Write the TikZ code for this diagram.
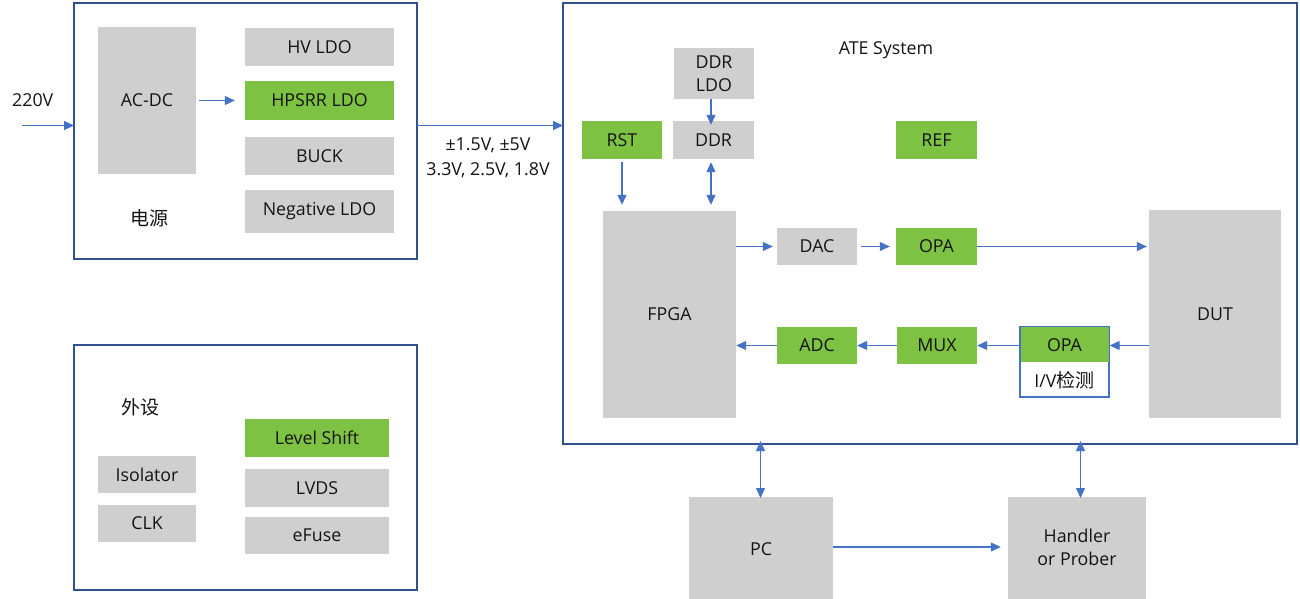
\documentclass[tikz,border=0pt]{standalone}
\usepackage{fontspec}
\setmainfont{Open Sans}
\newfontfamily\cjk{Noto Sans CJK SC}
\usetikzlibrary{arrows.meta,positioning}
\definecolor{boxgray}{RGB}{207,207,207}
\definecolor{boxgreen}{RGB}{125,194,66}
\definecolor{frameblue}{RGB}{47,82,143}
\definecolor{arrowblue}{RGB}{68,114,196}
\definecolor{txt}{RGB}{20,20,20}
\newcommand{\fs}{\fontsize{17.8}{23}\selectfont}
\newcommand{\cfs}{\cjk\fontsize{19}{23}\selectfont}
\tikzset{
  blk/.style={fill=boxgray, draw=none, inner sep=0pt, font=\fs, text=txt, align=center},
  gblk/.style={fill=boxgreen, draw=none, inner sep=0pt, font=\fs, text=txt, align=center},
  frame/.style={draw=frameblue, line width=1.6pt, fill=none},
  arr/.style={draw=arrowblue, line width=1.1pt, -{Triangle[length=10pt,width=9pt]}},
  darr/.style={draw=arrowblue, line width=1.1pt, {Triangle[length=10pt,width=9pt]}-{Triangle[length=10pt,width=9pt]}},
  lbl/.style={inner sep=0pt, font=\fs, text=txt, align=center},
}
\begin{document}
\begin{tikzpicture}[x=1pt,y=-1pt]
\useasboundingbox (0,0) rectangle (1300,598);
\fill[white] (0,0) rectangle (1300,598);

% ---------- Power box ----------
\draw[frame] (74,3) rectangle (417,259);
\node[blk, minimum width=98pt, minimum height=147pt] (acdc) at (147,100.5) {AC-DC};
\node[blk, minimum width=149pt, minimum height=38pt] (hvldo) at (319.5,47) {HV LDO};
\node[gblk, minimum width=149pt, minimum height=39pt] (hpsrr) at (319.5,100.5) {HPSRR LDO};
\node[blk, minimum width=149pt, minimum height=38pt] (buck) at (319.5,156) {BUCK};
\node[blk, minimum width=149pt, minimum height=43pt] (negldo) at (319.5,211.5) {Negative LDO};
\node[lbl, font=\cfs] (psu) at (149,218) {电源};
\coordinate (pwrL) at (74,125.5);
\coordinate (pwrR) at (417,125.5);
\coordinate (in220) at (22,125.5);
\node[lbl, anchor=west] (v220) at (12,100) {220V};
\draw[arr] (in220) -- (pwrL);
\draw[arr] ([xshift=3pt]acdc.east |- hpsrr.west) -- ([xshift=-10pt]hpsrr.west);
\node[lbl] (volt1) at (488,145) {±1.5V, ±5V};
\node[lbl] (volt2) at (488,170) {3.3V, 2.5V, 1.8V};

% ---------- ATE system ----------
\draw[frame] (563,3) rectangle (1297,444);
\coordinate (ateL) at (563,125.5);
\draw[arr] (pwrR) -- (ateL);
\node[lbl] (atesys) at (886,50) {ATE System};
\node[blk, minimum width=80pt, minimum height=51pt] (ddrldo) at (714,73.5) {DDR\\LDO};
\node[blk, minimum width=81pt, minimum height=38pt] (ddr) at (713.5,140) {DDR};
\node[gblk, minimum width=80pt, minimum height=38pt] (rst) at (622,140) {RST};
\node[gblk, minimum width=81pt, minimum height=38pt] (ref) at (936.5,140) {REF};
\node[blk, minimum width=133pt, minimum height=207pt] (fpga) at (669.5,314.5) {FPGA};
\node[blk, minimum width=80pt, minimum height=37pt] (dac) at (817,246.5) {DAC};
\node[gblk, minimum width=81pt, minimum height=37pt] (opa1) at (936.5,246.5) {OPA};
\node[blk, minimum width=132pt, minimum height=208pt] (dut) at (1215,314) {DUT};
\node[gblk, minimum width=80pt, minimum height=37pt] (adc) at (817,345.5) {ADC};
\node[gblk, minimum width=80pt, minimum height=37pt] (mux) at (937,345.5) {MUX};
\node[draw=arrowblue, line width=1.3pt, fill=white, inner sep=0pt, minimum width=89pt, minimum height=70pt] (ivbox) at (1064.5,362) {};
\node[gblk, minimum width=88pt, minimum height=35pt, anchor=north] (opa2) at ([yshift=-0.7pt]ivbox.north) {OPA};
\node[lbl, font=\fs] (ivlbl) at (1064.5,380) {I/V{\cfs 检测}};

\draw[arr] ([xshift=-3pt]ddrldo.south) -- ([yshift=-4pt,xshift=-2.5pt]ddr.north);
\draw[arr] ([yshift=-3pt]rst.south) -- ([yshift=6pt]rst.south |- fpga.north);
\draw[darr] ([xshift=-2.5pt,yshift=-3pt]ddr.south) -- ([xshift=-2.5pt,yshift=6pt]ddr.south |- fpga.north);
\draw[arr] (fpga.east |- dac.west) -- ([xshift=-4pt]dac.west);
\draw[arr] ([xshift=4pt]dac.east) -- ([xshift=-6pt]opa1.west);
\draw[arr] (opa1.east) -- ([xshift=-2pt]dut.west |- opa1.east);
\draw[arr] (dut.west |- mux.east) -- (ivbox.east |- mux.east);
\draw[arr] (ivbox.west |- mux.east) -- (mux.east);
\draw[arr] (mux.west) -- (adc.east);
\draw[arr] (adc.west) -- (fpga.east |- adc.west);

% ---------- PC / Handler ----------
\node[blk, minimum width=144pt, minimum height=104pt, anchor=north] (pc) at (761,497) {PC};
\node[blk, minimum width=138pt, minimum height=104pt, anchor=north] (hdl) at (1077,497) {};
\node[lbl] (hdltxt) at (1077,547) {Handler\\or Prober};
\coordinate (ateB1) at (760.5,444);
\coordinate (ateB2) at (1080.5,444);
\draw[darr] ([yshift=3pt]ateB1) -- ([yshift=-1pt]ateB1 |- pc.north);
\draw[darr] ([yshift=3pt]ateB2) -- ([yshift=-1pt]ateB2 |- hdl.north);
\draw[arr] (pc.east |- 0,547) -- ([xshift=-7pt]hdl.west |- 0,547);

% ---------- Peripherals ----------
\draw[frame] (74,345) rectangle (417,590);
\node[lbl, font=\cfs] (periph) at (140,407) {外设};
\node[gblk, minimum width=144pt, minimum height=38pt] (lvl) at (317,438) {Level Shift};
\node[blk, minimum width=144pt, minimum height=38pt] (lvds) at (317,488) {LVDS};
\node[blk, minimum width=144pt, minimum height=37pt] (efuse) at (317,535.5) {eFuse};
\node[blk, minimum width=98pt, minimum height=37pt] (iso) at (147,474.5) {Isolator};
\node[blk, minimum width=98pt, minimum height=37pt] (clk) at (147,523.5) {CLK};
\end{tikzpicture}
\end{document}
